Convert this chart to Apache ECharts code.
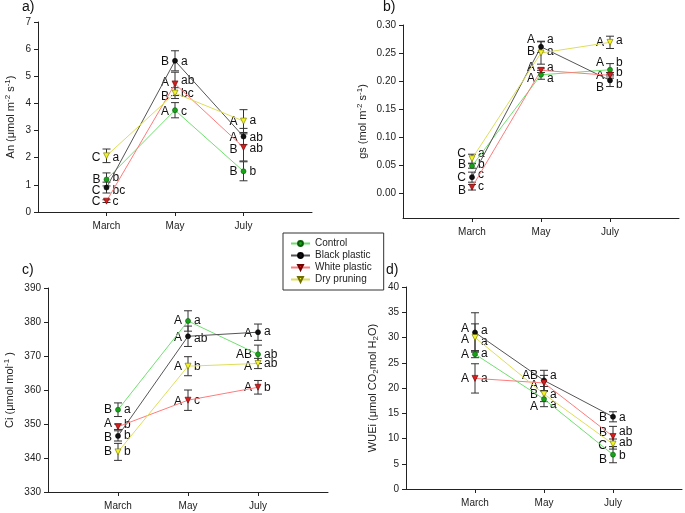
<!DOCTYPE html>
<html><head><meta charset="utf-8">
<script src="https://cdn.jsdelivr.net/npm/echarts@6/dist/echarts.min.js"></script>
<style>html,body{margin:0;padding:0;background:#fff}#c{width:685px;height:513px}</style>
</head><body><div id="c"></div>
<script>
// ---------- DATA ----------
const categories = ['March', 'May', 'July'];
const treatments = ['Control', 'Black plastic', 'White plastic', 'Dry pruning'];

// a) An (µmol m-2 s-1)
const anControl = [1.2, 3.75, 1.5];
const anBlack = [0.9, 5.57, 2.78];
const anWhite = [0.4, 4.72, 2.38];
const anDry = [2.07, 4.38, 3.35];
const anControlErr = [0.24, 0.28, 0.35];
const anBlackErr = [0.2, 0.37, 0.3];
const anWhiteErr = [0.05, 0.43, 0.5];
const anDryErr = [0.25, 0.2, 0.42];
const anUpper = [['B','A','B'], ['C','B','A'], ['C','A','B'], ['C','B','A']];
const anLower = [['b','c','b'], ['bc','a','ab'], ['c','ab','ab'], ['a','bc','a']];

// b) gs (mol m-2 s-1)
const gsControl = [0.048, 0.211, 0.220];
const gsBlack = [0.028, 0.261, 0.201];
const gsWhite = [0.010, 0.219, 0.210];
const gsDry = [0.061, 0.250, 0.269];
const gsControlErr = [0.004, 0.008, 0.011];
const gsBlackErr = [0.009, 0.01, 0.011];
const gsWhiteErr = [0.005, 0.004, 0.005];
const gsDryErr = [0.008, 0.02, 0.011];
const gsUpper = [['B','A','A'], ['C','A','B'], ['B','A','A'], ['C','B','A']];
const gsLower = [['b','a','b'], ['c','a','b'], ['c','a','b'], ['a','a','a']];
const gsTicks = [0, 0.05, 0.10, 0.15, 0.20, 0.25, 0.30];

// c) Ci (µmol mol-1)
const ciControl = [354.2, 380.3, 370.5];
const ciBlack = [346.5, 375.8, 377.0];
const ciWhite = [349.2, 357.0, 360.8];
const ciDry = [341.8, 367.0, 367.8];
const ciControlErr = [2.0, 3.0, 2.7];
const ciBlackErr = [1.5, 3.0, 2.4];
const ciWhiteErr = [0.8, 3.0, 2.0];
const ciDryErr = [2.5, 2.8, 1.5];
const ciUpper = [['B','A','AB'], ['B','A','A'], ['A','A','A'], ['B','A','A']];
const ciLower = [['a','a','ab'], ['b','ab','a'], ['b','c','b'], ['b','b','ab']];

// d) WUEi
const wueControl = [26.7, 17.8, 6.8];
const wueBlack = [31.0, 21.5, 14.3];
const wueWhite = [21.9, 21.0, 10.4];
const wueDry = [30.0, 18.8, 8.9];
const wueControlErr = [0.7, 1.5, 1.6];
const wueBlackErr = [3.9, 2.0, 1.0];
const wueWhiteErr = [2.9, 1.5, 2.0];
const wueDryErr = [2.7, 1.5, 1.0];
const wueUpper = [['A','A','B'], ['A','AB','B'], ['A','A','B'], ['A','B','C']];
const wueLower = [['a','a','b'], ['a','a','a'], ['a','','ab'], ['a','a','ab']];

// ---------- LAYOUT / STYLE ----------
const FONT = 'Liberation Sans, Arial, sans-serif';
// letter vertical nudges in px [upper, lower], per treatment per month
const nudgeA = [[[0,-2],[1,1],[0,0]], [[3,3],[1,1],[1,1]], [[1,1],[-1,-3],[2,1]], [[2,2],[4,1],[1,0]]];
const nudgeB = [[[-1,-1],[4,4],[-7,-7]], [[1,-2],[-7,-7],[7,4]], [[3,-1],[-3,-3],[0,-3]], [[-5,-5],[-1,-1],[0,-2]]];
const nudgeC = [[[0,0],[0,0],[0,0]], [[2,0],[1,2],[1,-1]], [[-3,-2],[1,0],[0,0]], [[0,0],[0,0],[3,0]]];
const nudgeD = [[[1,0],[8,6],[5,1]], [[-4,-2],[-5,-5],[1,1]], [[0,0],[3,0],[-4,-5]], [[2,4],[1,1],[2,-1]]];

const seriesStyle = [
  {line:'#6fe06f', fill:'#17a317', border:'#0a5a0a', symbol:'circle', rotate:0, size:5},
  {line:'#555555', fill:'#111111', border:'#000000', symbol:'circle', rotate:0, size:5},
  {line:'#ff7b7b', fill:'#d11f1f', border:'#6e0000', symbol:'triangle', rotate:180, size:6},
  {line:'#dede5a', fill:'#f3f32a', border:'#6e6e00', symbol:'triangle', rotate:180, size:6}
];

const panels = [
  {title:'a)', tx:22, ty:0, grid:{left:38, top:22, width:274, height:190},
   y:{min:0, max:7, interval:1}, dec:0,
   name:'{n|An (μmol m}{s|-2}{n| s}{s|-1}{n|)}', nameGap:20,
   values:[anControl, anBlack, anWhite, anDry], errs:[anControlErr, anBlackErr, anWhiteErr, anDryErr],
   upper:anUpper, lower:anLower, nudge:nudgeA},
  {title:'b)', tx:383, ty:0, grid:{left:403, top:25, width:276, height:193},
   y:{min:-0.045, max:0.30, ticks:gsTicks}, dec:2,
   name:'{n|gs (mol m}{s|-2}{n| s}{s|-1}{n|)}', nameGap:33,
   values:[gsControl, gsBlack, gsWhite, gsDry], errs:[gsControlErr, gsBlackErr, gsWhiteErr, gsDryErr],
   upper:gsUpper, lower:gsLower, nudge:nudgeB},
  {title:'c)', tx:22, ty:263, grid:{left:48, top:288, width:280, height:204},
   y:{min:330, max:390, interval:10}, dec:0,
   name:'{n|Ci (μmol mol}{s|-1}{n| )}', nameGap:31,
   values:[ciControl, ciBlack, ciWhite, ciDry], errs:[ciControlErr, ciBlackErr, ciWhiteErr, ciDryErr],
   upper:ciUpper, lower:ciLower, nudge:nudgeC},
  {title:'d)', tx:386, ty:263, grid:{left:406, top:287, width:276, height:202},
   y:{min:0, max:40, interval:5}, dec:0,
   name:'{n|WUEi (μmol CO}{b|2}{n|mol H}{b|2}{n|O)}', nameGap:26,
   values:[wueControl, wueBlack, wueWhite, wueDry], errs:[wueControlErr, wueBlackErr, wueWhiteErr, wueDryErr],
   upper:wueUpper, lower:wueLower, nudge:nudgeD}
];

const xCats = [''].concat(categories, ['']);
const grids = [], xAxes = [], yAxes = [], series = [], titles = [];

panels.forEach((p, pi) => {
  grids.push(Object.assign({containLabel:false, outerBoundsMode:'none'}, p.grid));
  titles.push({text:p.title, left:p.tx, top:p.ty, padding:0,
    textStyle:{fontSize:14, fontWeight:'normal', color:'#111', fontFamily:FONT}});
  xAxes.push({type:'category', gridIndex:pi, data:xCats, boundaryGap:false,
    axisLine:{onZero:false, lineStyle:{color:'#222', width:1}},
    axisTick:{interval:(i) => i > 0 && i < xCats.length - 1, length:4, lineStyle:{color:'#222'}},
    axisLabel:{interval:0, fontSize:10, color:'#222', margin:9, fontFamily:FONT},
    splitLine:{show:false}});
  const ya = {type:'value', gridIndex:pi, min:p.y.min, max:p.y.max,
    axisLine:{show:true, onZero:false, lineStyle:{color:'#222', width:1}},
    axisTick:{show:true, length:4, lineStyle:{color:'#222'}},
    axisLabel:{fontSize:10, color:'#222', margin:7, fontFamily:FONT,
      formatter:(v) => Number(v).toFixed(p.dec)},
    splitLine:{show:false},
    name:p.name, nameLocation:'middle', nameRotate:90, nameGap:p.nameGap,
    nameTextStyle:{fontFamily:FONT, color:'#222', rich:{
      n:{fontSize:11, lineHeight:14, color:'#222', fontFamily:FONT},
      s:{fontSize:8, lineHeight:14, verticalAlign:'top', color:'#222', fontFamily:FONT},
      b:{fontSize:8, lineHeight:14, verticalAlign:'bottom', color:'#222', fontFamily:FONT}}}};
  if (p.y.ticks) {
    ya.axisTick.customValues = p.y.ticks;
    ya.axisLabel.customValues = p.y.ticks;
  } else {
    ya.interval = p.y.interval;
  }
  yAxes.push(ya);

  // error bars + significance letters
  const edata = [];
  p.values.forEach((vals, t) => vals.forEach((v, m) => edata.push([m + 1, v, p.errs[t][m], t, m])));
  series.push({type:'custom', xAxisIndex:pi, yAxisIndex:pi, data:edata, z:2, silent:true, clip:false,
    encode:{x:0, y:1},
    renderItem:(params, api) => {
      const x = api.value(0), v = api.value(1), e = api.value(2), t = api.value(3), m = api.value(4);
      const c = api.coord([x, v]), hi = api.coord([x, v + e]), lo = api.coord([x, v - e]);
      const cw = 4, nd = p.nudge[t][m];
      const ls = {stroke:'#333', lineWidth:1};
      return {type:'group', children:[
        {type:'line', shape:{x1:c[0], y1:hi[1], x2:c[0], y2:lo[1]}, style:ls},
        {type:'line', shape:{x1:c[0]-cw, y1:hi[1], x2:c[0]+cw, y2:hi[1]}, style:ls},
        {type:'line', shape:{x1:c[0]-cw, y1:lo[1], x2:c[0]+cw, y2:lo[1]}, style:ls},
        {type:'text', x:c[0]-6, y:c[1]+nd[0], z2:10, style:{text:p.upper[t][m], align:'right', verticalAlign:'middle', fontSize:12, fill:'#111', fontFamily:FONT}},
        {type:'text', x:c[0]+6, y:c[1]+nd[1], z2:10, style:{text:p.lower[t][m], align:'left', verticalAlign:'middle', fontSize:12, fill:'#111', fontFamily:FONT}}
      ]};
    }});

  p.values.forEach((vals, t) => {
    const st = seriesStyle[t];
    series.push({type:'line', name:treatments[t], xAxisIndex:pi, yAxisIndex:pi, z:3,
      data:categories.map((c, i) => [c, vals[i]]),
      symbol:st.symbol, symbolRotate:st.rotate, symbolSize:st.size, showSymbol:true,
      lineStyle:{color:st.line, width:1},
      itemStyle:{color:st.fill, borderColor:st.border, borderWidth:0.6},
      emphasis:{disabled:true}, animation:false});
  });
});

const chart = echarts.init(document.getElementById('c'), null, {renderer:'canvas'});
chart.setOption({
  animation:false,
  textStyle:{fontFamily:FONT},
  title:titles,
  grid:grids, xAxis:xAxes, yAxis:yAxes, series:series,
  legend:{data:treatments, orient:'vertical', left:283, top:233, padding:[5,12,5,7],
    itemGap:1, itemWidth:19, itemHeight:6, selectedMode:false,
    backgroundColor:'#fff', borderColor:'#333', borderWidth:1,
    textStyle:{fontSize:10, color:'#222', fontFamily:FONT, lineHeight:11}}
});
</script>
</body></html>
